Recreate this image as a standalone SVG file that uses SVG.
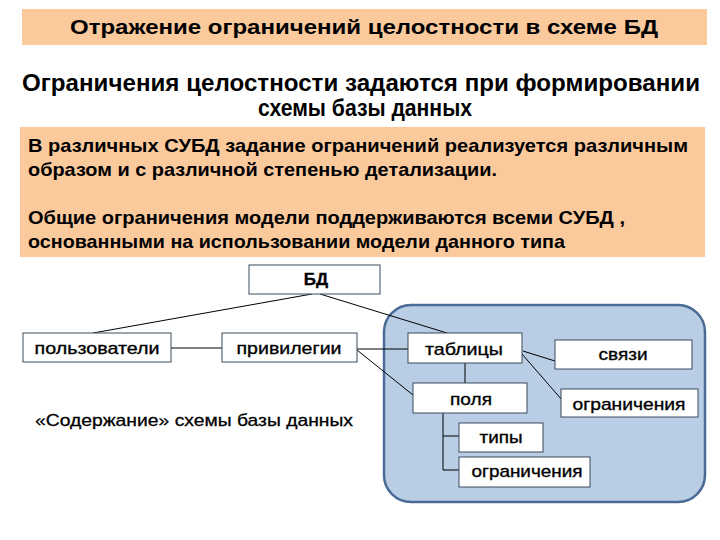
<svg xmlns="http://www.w3.org/2000/svg" width="720" height="540" viewBox="0 0 720 540">
<style>
.band{fill:#FAC99C;}
.h{font-family:"Liberation Sans",Arial,sans-serif;font-weight:bold;fill:#000;}
.box{fill:#FFFFFF;stroke:#3A4A5E;stroke-width:1;}
.lbl{font-family:"Liberation Sans",Arial,sans-serif;font-size:17px;fill:#000;stroke:#000;stroke-width:0.35;text-anchor:middle;}
.ln{stroke:#000;stroke-width:1;fill:none;}
</style>
<rect width="720" height="540" fill="#FFFFFF"/>
<g id="title">
<rect class="band" x="22" y="9" width="685" height="36"/>
<text class="h" x="364" y="34" font-size="21" text-anchor="middle" textLength="588" lengthAdjust="spacingAndGlyphs">Отражение ограничений целостности в схеме БД</text>
</g>
<g id="subtitle">
<text class="h" x="361" y="91" font-size="24" text-anchor="middle" textLength="678" lengthAdjust="spacingAndGlyphs">Ограничения целостности задаются при формировании</text>
<text class="h" x="365" y="116" font-size="24" text-anchor="middle" textLength="214" lengthAdjust="spacingAndGlyphs">схемы базы данных</text>
</g>
<g id="note">
<rect class="band" x="20" y="127" width="685" height="130"/>
<text class="h" x="28" y="152" font-size="18.5" textLength="660" lengthAdjust="spacingAndGlyphs">В различных СУБД задание ограничений реализуется различным</text>
<text class="h" x="28" y="176" font-size="18.5" textLength="469" lengthAdjust="spacingAndGlyphs">образом и с различной степенью детализации.</text>
<text class="h" x="28" y="224" font-size="18.5" textLength="597" lengthAdjust="spacingAndGlyphs">Общие ограничения модели поддерживаются всеми СУБД ,</text>
<text class="h" x="28" y="248" font-size="18.5" textLength="537" lengthAdjust="spacingAndGlyphs">основанными на использовании модели данного типа</text>
</g>
<g id="schema-area">
<rect x="384" y="305" width="321" height="197" rx="27" ry="27" fill="#B9CDE5" stroke="#4A6B96" stroke-width="2.5"/>
</g>
<g id="connectors">
<line class="ln" x1="312" y1="294" x2="93" y2="333"/>
<line class="ln" x1="320" y1="294" x2="447" y2="333"/>
<line class="ln" x1="171" y1="348" x2="222" y2="348"/>
<line class="ln" x1="357" y1="349" x2="408" y2="349"/>
<line class="ln" x1="357" y1="350" x2="413" y2="395"/>
<line class="ln" x1="465" y1="363" x2="465" y2="383"/>
<line class="ln" x1="523" y1="351" x2="555" y2="361"/>
<line class="ln" x1="522" y1="354" x2="562" y2="400"/>
<polyline class="ln" points="443,413 443,470 459,470"/>
<line class="ln" x1="443" y1="436" x2="459" y2="436"/>
</g>
<g id="node-bd">
<rect class="box" x="249" y="265" width="131" height="29"/>
<text class="lbl" x="316" y="285" font-weight="bold">БД</text>
</g>
<g id="node-users">
<rect class="box" x="23" y="333" width="148" height="29"/>
<text class="lbl" x="97" y="354" textLength="125" lengthAdjust="spacingAndGlyphs">пользователи</text>
</g>
<g id="node-priv">
<rect class="box" x="222" y="333" width="135" height="29"/>
<text class="lbl" x="289" y="354" textLength="105" lengthAdjust="spacingAndGlyphs">привилегии</text>
</g>
<g id="node-tables">
<rect class="box" x="408" y="333" width="114" height="30"/>
<text class="lbl" x="464" y="355" textLength="78" lengthAdjust="spacingAndGlyphs">таблицы</text>
</g>
<g id="node-links">
<rect class="box" x="555" y="340" width="137" height="29"/>
<text class="lbl" x="623" y="360" textLength="49" lengthAdjust="spacingAndGlyphs">связи</text>
</g>
<g id="node-fields">
<rect class="box" x="413" y="383" width="114" height="30"/>
<text class="lbl" x="471" y="405" textLength="42" lengthAdjust="spacingAndGlyphs">поля</text>
</g>
<g id="node-constraints1">
<rect class="box" x="561" y="389" width="137" height="28"/>
<text class="lbl" x="629" y="410" textLength="113" lengthAdjust="spacingAndGlyphs">ограничения</text>
</g>
<g id="node-types">
<rect class="box" x="459" y="423" width="84" height="29"/>
<text class="lbl" x="501" y="443" textLength="43" lengthAdjust="spacingAndGlyphs">типы</text>
</g>
<g id="node-constraints2">
<rect class="box" x="459" y="457" width="131" height="30"/>
<text class="lbl" x="527" y="477" textLength="111" lengthAdjust="spacingAndGlyphs">ограничения</text>
</g>
<g id="caption">
<text x="194" y="426" font-family="'Liberation Sans',Arial,sans-serif" font-size="17" fill="#000" stroke="#000" stroke-width="0.3" text-anchor="middle" textLength="318" lengthAdjust="spacingAndGlyphs">«Содержание» схемы базы данных</text>
</g>
</svg>
